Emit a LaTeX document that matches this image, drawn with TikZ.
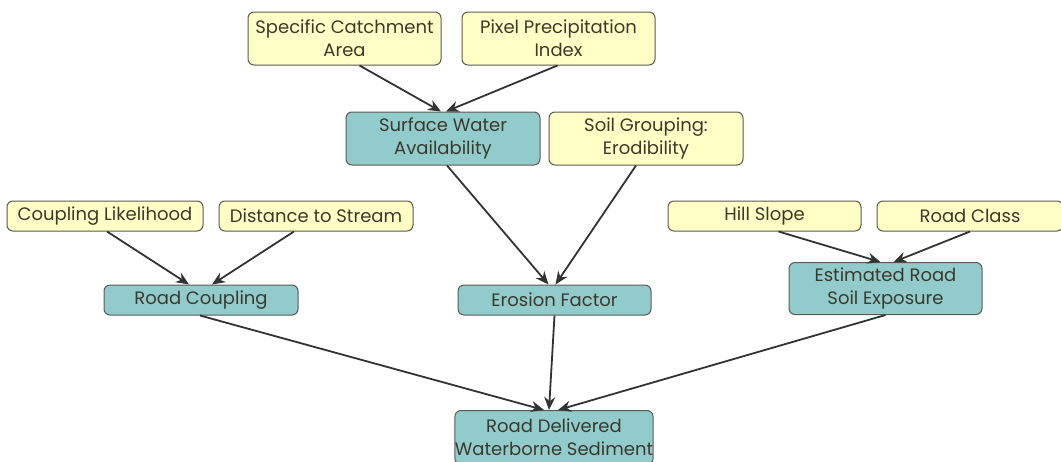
\documentclass[tikz,border=0pt]{standalone}
\usepackage{fontspec}
\setmainfont{Poppins}
\usetikzlibrary{arrows.meta,calc}
\definecolor{ybox}{HTML}{FFFFC6}
\definecolor{tbox}{HTML}{92CBCB}
\definecolor{bline}{HTML}{5A5A50}
\definecolor{tcol}{HTML}{3A3A2C}
\definecolor{acol}{HTML}{333333}
\tikzset{
  base/.style={draw=bline, line width=1pt, rounded corners=6pt, align=center,
    text=tcol, font=\fontsize{18}{23}\selectfont, inner sep=0pt},
  ynode/.style={base, fill=ybox},
  tnode/.style={base, fill=tbox},
  conn/.style={draw=acol, line width=1.8pt, -{Stealth[length=13pt,width=11pt]}}
}
\begin{document}
\begin{tikzpicture}[x=1pt,y=-1pt]
\useasboundingbox (0,0) rectangle (1061,461);
\clip (0,0) rectangle (1061,461);
% yellow input nodes
\node[ynode, minimum width=193, minimum height=53] (sca) at (344.5,38.5) {Specific Catchment\\Area};
\node[ynode, minimum width=193, minimum height=53] (ppi) at (558.5,38.5) {Pixel Precipitation\\Index};
\node[ynode, minimum width=194, minimum height=53] (soil) at (646,138.5) {Soil Grouping:\\Erodibility};
\node[ynode, minimum width=196, minimum height=30] (cl) at (105,216) {Coupling Likelihood};
\node[ynode, minimum width=194, minimum height=30] (ds) at (316,216) {Distance to Stream};
\node[ynode, minimum width=193, minimum height=30] (hs) at (764.5,216) {Hill Slope};
\node[ynode, minimum width=186, minimum height=30] (rc) at (970,216) {Road Class};
% teal nodes
\node[tnode, minimum width=194, minimum height=53] (swa) at (443,138.5) {Surface Water\\Availability};
\node[tnode, minimum width=194, minimum height=30] (rcp) at (201,300) {Road Coupling};
\node[tnode, minimum width=193, minimum height=30] (ef) at (554.5,300) {Erosion Factor};
\node[tnode, minimum width=193, minimum height=52] (ers) at (885.5,288.5) {Estimated Road\\Soil Exposure};
\node[tnode, minimum width=194, minimum height=54, anchor=north] (rdws) at (554,410) {Road Delivered\\Waterborne Sediment};
% connectors
\draw[conn] ([xshift=15]sca.south) -- ([xshift=-2]swa.north);
\draw[conn] ([xshift=-1]ppi.south) -- ([xshift=3]swa.north);
\draw[conn] ([xshift=4]swa.south) -- ([xshift=-6]ef.north);
\draw[conn] ([xshift=-10]soil.south) -- ([xshift=1]ef.north);
\draw[conn] ([xshift=2]cl.south) -- ([xshift=-12]rcp.north);
\draw[conn] ([xshift=-22]ds.south) -- ([xshift=11]rcp.north);
\draw[conn] ([xshift=14]hs.south) -- ([xshift=-5]ers.north);
\draw[conn] ([xshift=0]rc.south) -- ([xshift=8]ers.north);
\draw[conn] ([xshift=-1]rcp.south) -- ([xshift=-10]rdws.north);
\draw[conn] (ef.south) -- ([xshift=-5]rdws.north);
\draw[conn] ([xshift=0]ers.south) -- ([xshift=4]rdws.north);
\end{tikzpicture}
\end{document}
